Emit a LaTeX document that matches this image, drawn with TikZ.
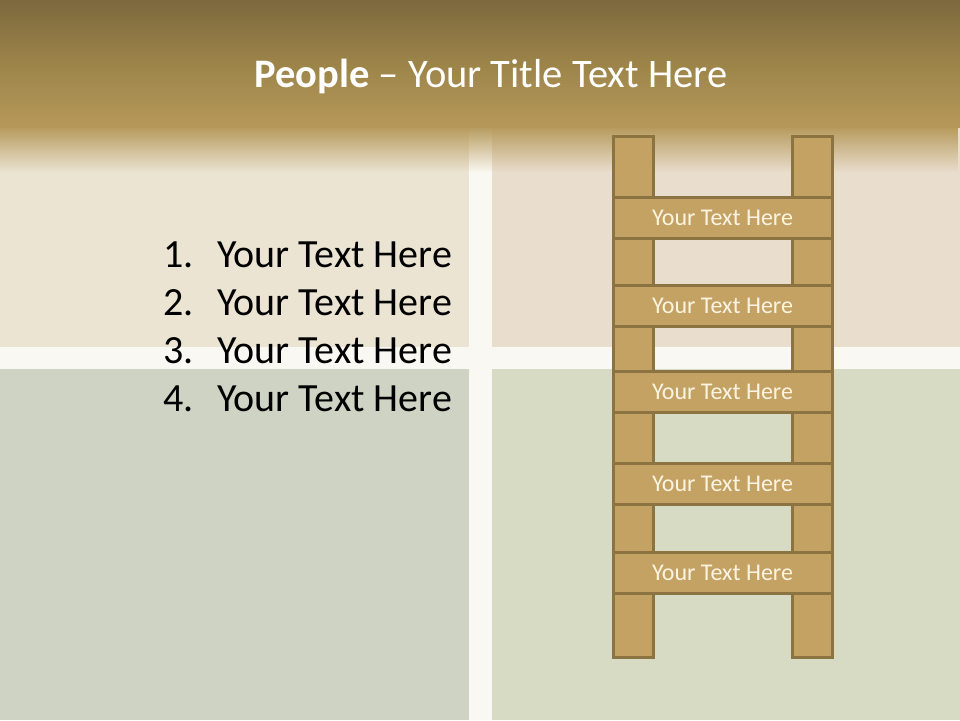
\documentclass[tikz,border=0pt]{standalone}
\usepackage{fontspec}
\setmainfont{Carlito}
\usetikzlibrary{fadings}
\definecolor{bandtop}{HTML}{7C683E}
\definecolor{bandmid}{HTML}{9C8449}
\definecolor{bandbot}{HTML}{B6995A}
\definecolor{tlpanel}{HTML}{EBE4D2}
\definecolor{trpanel}{HTML}{E9DECD}
\definecolor{blpanel}{HTML}{CFD3C3}
\definecolor{brpanel}{HTML}{D8DBC3}
\definecolor{gapcol}{HTML}{FAF8F2}
\definecolor{woodfill}{HTML}{C4A263}
\definecolor{woodedge}{HTML}{8B7442}
\definecolor{woodtext}{HTML}{FCF4E2}
\tikzset{
  rail/.style={draw=woodedge, fill=woodfill, line width=3pt},
  rung/.style={draw=woodedge, fill=woodfill, line width=3pt, minimum width=219pt, minimum height=41pt, inner sep=0pt, text=woodtext, font=\fontsize{24}{27}\selectfont},
  listitem/.style={anchor=base west, inner sep=0pt, font=\fontsize{40}{46}\selectfont, text=black},
}
\begin{document}
\begin{tikzpicture}[x=1pt,y=-1pt]
\useasboundingbox (0,0) rectangle (960,720);
% background panels
\fill[gapcol] (0,0) rectangle (960,720);
\fill[tlpanel] (0,0) rectangle (469,347);
\fill[trpanel] (492,0) rectangle (960,347);
\fill[blpanel] (0,369) rectangle (469,720);
\fill[brpanel] (492,369) rectangle (960,720);
% title band
\shade[top color=bandtop, bottom color=bandbot, middle color=bandmid] (0,0) rectangle (960,127);
\fill[bandbot, path fading=south] (0,126) rectangle (960,172);
\node[anchor=base, text=white, inner sep=0pt, font=\fontsize{40.5}{46}\selectfont] (title) at (491,87) {\textbf{People} – Your Title Text Here};
% list
\node[listitem] (n1) at (163,267) {1.};
\node[listitem] (t1) at (217,267) {Your Text Here};
\node[listitem] (n2) at (163,315) {2.};
\node[listitem] (t2) at (217,315) {Your Text Here};
\node[listitem] (n3) at (163,363) {3.};
\node[listitem] (t3) at (217,363) {Your Text Here};
\node[listitem] (n4) at (163,411) {4.};
\node[listitem] (t4) at (217,411) {Your Text Here};
% ladder
\draw[rail] (613,136) rectangle (653,657);
\draw[rail] (792,136) rectangle (832,657);
\node[rung] (r1) at (722.5,217.5) {Your Text Here};
\node[rung] (r2) at (722.5,306) {Your Text Here};
\node[rung] (r3) at (722.5,392) {Your Text Here};
\node[rung] (r4) at (722.5,484) {Your Text Here};
\node[rung] (r5) at (722.5,572.5) {Your Text Here};
\end{tikzpicture}
\end{document}
